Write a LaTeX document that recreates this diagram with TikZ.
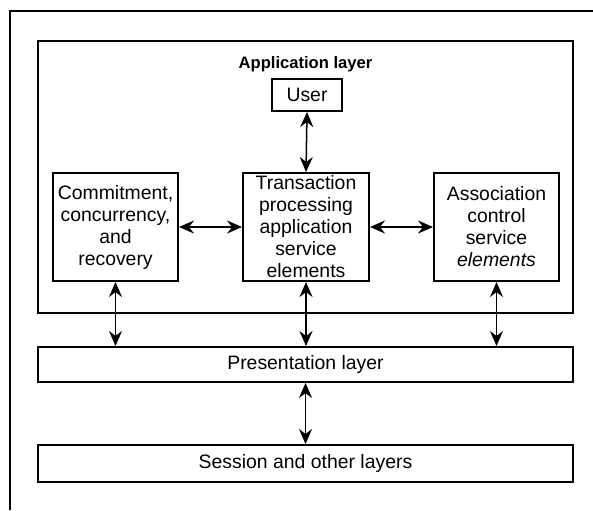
\documentclass[tikz,border=0pt]{standalone}
\usepackage{fontspec}
\setmainfont{Liberation Sans}
\usepackage{tikz}
\usetikzlibrary{arrows.meta,calc}
\newcommand{\boxfont}{\fontsize{9.7}{11}\selectfont}
\newcommand{\titlefont}{\fontsize{8.3}{10}\selectfont\bfseries}

\begin{document}
\begin{tikzpicture}[x=0.5pt,y=-0.5pt]
    \tikzstyle{layer box}=[draw,line width=1pt,inner sep=0pt,align=center,font=\boxfont]
    \tikzstyle{service box}=[layer box,minimum width=62.5pt,minimum height=54pt]
    \tikzstyle{link}=[line width=0.75pt,{Stealth[length=7.5pt,width=6.5pt,inset=2.5pt]}-{Stealth[length=7.5pt,width=6.5pt,inset=2.5pt]}]
    \useasboundingbox (0,0) rectangle (593,510);
    \draw[line width=0.6pt] (10,510) -- (10,11) -- (593,11);
    \node(app)[layer box,minimum width=267.5pt,minimum height=136pt] at (305.5,177) {};
    \node(title)[font=\titlefont] at (305.5,64) {Application layer};
    \node(user)[layer box,minimum width=35pt,minimum height=16pt] at (307,95) {User};
    \node(ccr)[service box] at (115.5,227) {Commitment,\\concurrency,\\and\\recovery};
    \node(tpase)[service box,minimum width=63pt] at (306,227) {Transaction\\processing\\application\\service\\elements};
    \node(acse)[service box] at (496.5,227) {Association\\control\\service\\\textit{elements}};
    \node(pres)[layer box,minimum width=267.5pt,minimum height=17.5pt] at (305.5,364.5) {Presentation layer};
    \node(sess)[layer box,minimum width=267.5pt,minimum height=18.5pt] at (305.5,463.5) {Session and other layers};
    \draw[link] (user.south) -- (tpase.north);
    \draw[link] (ccr.east) -- (tpase.west);
    \draw[link] (tpase.east) -- (acse.west);
    \draw[link] (ccr.south) -- (ccr.south |- pres.north);
    \draw[link] (tpase.south) -- (tpase.south |- pres.north);
    \draw[link] (acse.south) -- (acse.south |- pres.north);
    \draw[link] (pres.south) -- (sess.north);
\end{tikzpicture}
\end{document}
